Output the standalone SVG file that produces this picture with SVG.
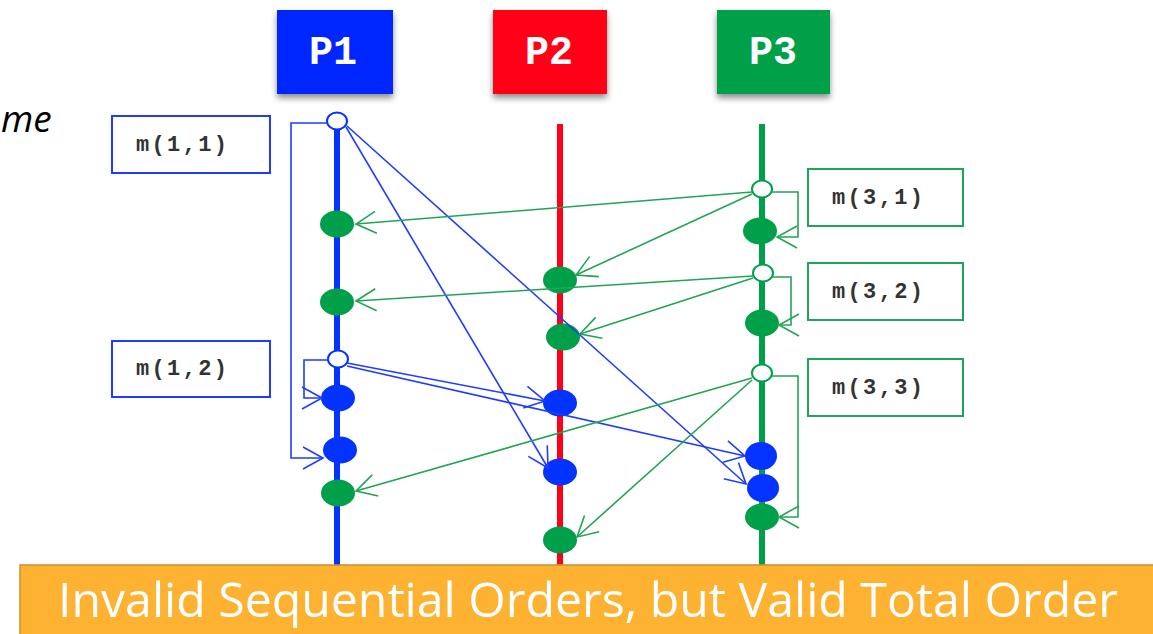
<svg xmlns="http://www.w3.org/2000/svg" width="1153" height="634" viewBox="0 0 1153 634">
<style>
.hdr{font-family:"Liberation Mono","Courier New",monospace;font-weight:bold;font-size:40px;fill:#fff;text-anchor:middle}
.lbl{font-family:"Liberation Mono","Courier New",monospace;font-weight:bold;font-size:22px;fill:#333}
.bm{fill:none;stroke:#1f3cff;stroke-width:1.6}
.gm{fill:none;stroke:#22a455;stroke-width:1.6}
.bbox{fill:#fff;stroke:#1f3cff;stroke-width:2}
.gbox{fill:#fff;stroke:#1fa458;stroke-width:2}
.be{fill:#0433ff}
.ge{fill:#00a04a}
</style>
<defs>
<filter id="sh" x="-20%" y="-20%" width="140%" height="150%">
<feDropShadow dx="0" dy="4" stdDeviation="3" flood-color="#000" flood-opacity="0.45"/>
</filter>
<marker id="ab" markerUnits="userSpaceOnUse" markerWidth="24" markerHeight="24" refX="20" refY="11" orient="auto" overflow="visible">
<path d="M0,0 L20,11 L0,22" fill="none" stroke="#1f3cff" stroke-width="1.6"/>
</marker>
<marker id="ag" markerUnits="userSpaceOnUse" markerWidth="24" markerHeight="24" refX="20" refY="11" orient="auto" overflow="visible">
<path d="M0,0 L20,11 L0,22" fill="none" stroke="#22a455" stroke-width="1.6"/>
</marker>
</defs>
<rect width="1153" height="634" fill="#fff"/>
<text x="1" y="132" font-family="Open Sans, Liberation Sans, sans-serif" font-style="italic" font-size="37" fill="#000">me</text>

<g id="P1">
<rect x="277" y="10" width="116" height="84" fill="#0028ff" filter="url(#sh)"/>
<text class="hdr" x="333" y="64">P1</text>
</g>
<g id="P2">
<rect x="493" y="10" width="114" height="84" fill="#ff0018" filter="url(#sh)"/>
<text class="hdr" x="549" y="64">P2</text>
</g>
<g id="P3">
<rect x="717" y="10" width="113" height="84" fill="#00a04a" filter="url(#sh)"/>
<text class="hdr" x="773" y="64">P3</text>
</g>

<g id="timelines">
<line x1="337" y1="121" x2="337" y2="566" stroke="#0433ff" stroke-width="6"/>
<line x1="560" y1="124" x2="560" y2="566" stroke="#ff0018" stroke-width="6"/>
<line x1="762" y1="124" x2="762" y2="566" stroke="#00a04a" stroke-width="6"/>
</g>

<g id="label-m11"><rect class="bbox" x="112" y="116" width="158" height="57"/><text class="lbl" x="136" y="151" textLength="91" lengthAdjust="spacing">m(1,1)</text></g>
<g id="label-m12"><rect class="bbox" x="112" y="341" width="158" height="56"/><text class="lbl" x="136" y="375" textLength="91" lengthAdjust="spacing">m(1,2)</text></g>
<g id="label-m31"><rect class="gbox" x="808" y="169" width="155" height="57"/><text class="lbl" x="832" y="204" textLength="91" lengthAdjust="spacing">m(3,1)</text></g>
<g id="label-m32"><rect class="gbox" x="808" y="263" width="155" height="57"/><text class="lbl" x="832" y="298" textLength="91" lengthAdjust="spacing">m(3,2)</text></g>
<g id="label-m33"><rect class="gbox" x="808" y="359" width="155" height="57"/><text class="lbl" x="832" y="394" textLength="91" lengthAdjust="spacing">m(3,3)</text></g>

<g id="events">
<ellipse id="p1-send1" cx="337" cy="121" rx="10" ry="8.5" fill="#fff" stroke="#0433ff" stroke-width="2"/>
<ellipse class="ge" cx="337" cy="224" rx="17" ry="13.5"/>
<ellipse class="ge" cx="337" cy="302" rx="17" ry="13.5"/>
<ellipse id="p1-send2" cx="338" cy="359" rx="10" ry="8.5" fill="#fff" stroke="#0433ff" stroke-width="2"/>
<ellipse class="be" cx="338" cy="398" rx="17" ry="13.5"/>
<ellipse class="be" cx="340" cy="450" rx="17" ry="13.5"/>
<ellipse class="ge" cx="338" cy="493" rx="17" ry="13.5"/>

<ellipse class="ge" cx="560" cy="280" rx="17" ry="13.5"/>
<ellipse class="ge" cx="563" cy="337" rx="17" ry="13.5"/>
<ellipse class="be" cx="560" cy="403" rx="17" ry="13.5"/>
<ellipse class="be" cx="560" cy="472" rx="17" ry="13.5"/>
<ellipse class="ge" cx="560" cy="540" rx="17" ry="13.5"/>

<ellipse id="p3-send1" cx="762" cy="189" rx="10" ry="8.5" fill="#fff" stroke="#00a04a" stroke-width="2"/>
<ellipse class="ge" cx="760" cy="231" rx="17" ry="13.5"/>
<ellipse id="p3-send2" cx="763" cy="273" rx="10" ry="8.5" fill="#fff" stroke="#00a04a" stroke-width="2"/>
<ellipse class="ge" cx="762" cy="323" rx="17" ry="13.5"/>
<ellipse id="p3-send3" cx="762" cy="373" rx="10" ry="8.5" fill="#fff" stroke="#00a04a" stroke-width="2"/>
<ellipse class="be" cx="761" cy="456" rx="16" ry="14"/>
<ellipse class="be" cx="763" cy="488" rx="16" ry="14"/>
<ellipse class="ge" cx="762" cy="517" rx="17" ry="13.5"/>
</g>

<g id="connectors">
<path class="bm" d="M328,123 H291 V458 H323" marker-end="url(#ab)"/>
<path class="bm" d="M329,360 H304 V398 H322" marker-end="url(#ab)"/>
<path class="bm" d="M346,127 L548,468" marker-end="url(#ab)"/>
<path class="bm" d="M347,126 L746,484" marker-end="url(#ab)"/>
<path class="bm" d="M347,363 L545,401" marker-end="url(#ab)"/>
<path class="bm" d="M347,366 L745,456" marker-end="url(#ab)"/>

<path class="gm" d="M771,192 H798 V237 H777" marker-end="url(#ag)"/>
<path class="gm" d="M772,277 H791 V325 H779" marker-end="url(#ag)"/>
<path class="gm" d="M772,376 H798 V517 H779" marker-end="url(#ag)"/>
<path class="gm" d="M752,192 L356,224" marker-end="url(#ag)"/>
<path class="gm" d="M752,194 L576,275" marker-end="url(#ag)"/>
<path class="gm" d="M753,276 L356,301" marker-end="url(#ag)"/>
<path class="gm" d="M753,278 L580,334" marker-end="url(#ag)"/>
<path class="gm" d="M752,378 L356,491" marker-end="url(#ag)"/>
<path class="gm" d="M752,380 L577,537" marker-end="url(#ag)"/>
</g>

<g id="banner">
<rect x="20" y="565" width="1140" height="72" fill="#fdb232" stroke="#c99033" stroke-width="1.5"/>
<text x="58" y="617" font-family="Open Sans, Liberation Sans, sans-serif" font-size="48" fill="#fff" textLength="1060" lengthAdjust="spacingAndGlyphs">Invalid Sequential Orders, but Valid Total Order</text>
</g>
</svg>
